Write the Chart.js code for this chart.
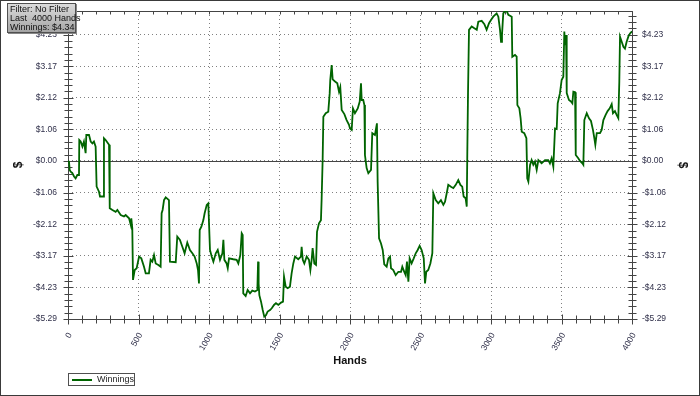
<!DOCTYPE html>
<html>
<head>
<meta charset="utf-8">
<script src="https://cdn.jsdelivr.net/npm/chart.js@4/dist/chart.umd.min.js"></script>
<style>
  body { margin: 0; background: #fff; }
  #wrap { position: relative; width: 700px; height: 396px; }
  #c { position: absolute; left: 0; top: 0; }
  #border { position: absolute; left: 0; top: 0; width: 698px; height: 394px; border: 1px solid #3a3a3a; pointer-events: none; }
  #info {
    position: absolute; left: 7px; top: 3px; width: 65px; height: 27px;
    border: 1px solid #505050; background: linear-gradient(#dcdcdc, #a4a4a4);
    font: 9px "Liberation Sans", Arial, sans-serif; line-height: 9px; color: #111;
    padding: 1px 0 0 2px; white-space: pre; box-shadow: 1px 1px 0 #888;
  }
  #legend {
    position: absolute; left: 68px; top: 373px; width: 65px; height: 11px;
    border: 1px solid #505050; font: 9px "Liberation Sans", Arial, sans-serif; color: #222;
    line-height: 11px; white-space: nowrap;
  }
  #legend i { display: inline-block; width: 20px; height: 0; border-top: 2px solid #006400; vertical-align: middle; margin: 0 5px 0 3px; }
</style>
</head>
<body>
<div id="wrap">
  <canvas id="c" width="700" height="396"></canvas>
  <div id="info"></div>
  <div id="legend"></div>
  <div id="border"></div>
</div>
<script>
// hands played (x) and cumulative winnings in $ (y)
const hands = [
  0, 7, 12, 19, 30, 43, 54, 66, 78, 80, 90, 102, 113, 125, 130, 149, 161, 173, 184, 196,
  203, 220, 227, 250, 255, 267, 291, 296, 315, 338, 350, 374, 397, 409, 433, 445, 449, 456, 461, 473,
  487, 504, 520, 539, 551, 574, 586, 598, 610, 622, 641, 657, 664, 671, 681, 693, 716, 723, 764, 775,
  794, 811, 827, 846, 865, 882, 898, 913, 922, 929, 934, 946, 960, 969, 984, 995, 1007, 1019, 1031, 1048,
  1062, 1078, 1095, 1102, 1109, 1125, 1133, 1142, 1172, 1196, 1208, 1222, 1232, 1239, 1243, 1260, 1274, 1291, 1307, 1326,
  1343, 1348, 1352, 1357, 1369, 1381, 1392, 1404, 1416, 1433, 1445, 1461, 1475, 1492, 1511, 1525, 1532, 1544, 1558, 1574,
  1586, 1598, 1610, 1633, 1652, 1657, 1665, 1676, 1693, 1709, 1719, 1728, 1735, 1747, 1759, 1766, 1780, 1794, 1799, 1806,
  1811, 1828, 1846, 1856, 1860, 1870, 1877, 1894, 1910, 1922, 1931, 1941, 1960, 1976, 1993, 2000, 2012, 2021, 2035, 2055,
  2069, 2078, 2083, 2094, 2102, 2106, 2118, 2130, 2149, 2158, 2177, 2191, 2196, 2206, 2220, 2232, 2243, 2260, 2272, 2284,
  2291, 2307, 2324, 2343, 2362, 2371, 2385, 2395, 2404, 2414, 2423, 2437, 2452, 2466, 2480, 2494, 2508, 2523, 2532, 2541,
  2555, 2570, 2584, 2591, 2608, 2626, 2645, 2662, 2674, 2688, 2697, 2716, 2733, 2750, 2768, 2783, 2796, 2806, 2820, 2828,
  2832, 2837, 2844, 2863, 2882, 2899, 2910, 2934, 2953, 2969, 2986, 3000, 3016, 3040, 3052, 3064, 3071, 3078, 3087, 3099,
  3113, 3123, 3147, 3151, 3170, 3182, 3187, 3201, 3210, 3218, 3236, 3251, 3257, 3265, 3277, 3288, 3300, 3312, 3324, 3336,
  3359, 3383, 3406, 3418, 3430, 3442, 3454, 3466, 3473, 3489, 3501, 3513, 3520, 3525, 3532, 3537, 3553, 3567, 3577, 3584,
  3596, 3601, 3619, 3631, 3648, 3655, 3662, 3679, 3695, 3709, 3723, 3733, 3740, 3750, 3773, 3785, 3797, 3813, 3827, 3842,
  3856, 3865, 3879, 3891, 3903, 3910, 3915, 3927, 3939, 3950, 3962, 3974, 3986, 4000
];
const winnings = [
  0, -0.02, -0.30, -0.36, -0.40, -0.52, -0.58, -0.47, -0.47, 0.70, 0.65, 0.48, 0.65, 0.26, 0.87, 0.87, 0.65, 0.59, 0.65, 0.48,
  -0.86, -1.03, -1.19, -1.19, 0.76, 0.70, 0.54, -1.58, -1.64, -1.70, -1.64, -1.81, -1.86, -1.81, -1.92, -2.14, -1.92, -2.25, -3.98, -3.65,
  -3.59, -3.20, -3.26, -3.54, -3.76, -3.76, -3.31, -3.37, -3.15, -3.43, -3.48, -3.54, -1.75, -1.64, -1.31, -1.22, -1.31, -3.37, -3.39, -2.53,
  -2.64, -2.87, -3.09, -2.73, -2.98, -3.09, -3.20, -3.43, -3.65, -4.10, -2.31, -2.20, -1.98, -1.75, -1.47, -1.42, -2.98, -3.20, -3.37, -3.09,
  -2.98, -3.31, -3.09, -2.64, -3.31, -3.43, -3.59, -3.26, -3.29, -3.31, -3.43, -3.15, -2.42, -2.48, -4.43, -4.52, -4.32, -4.43, -4.34, -4.37,
  -4.32, -3.37, -4.10, -4.49, -4.71, -4.99, -5.21, -5.16, -5.04, -4.99, -4.93, -4.82, -4.76, -4.82, -4.74, -4.71, -3.87, -4.21, -4.26, -4.21,
  -3.76, -3.43, -3.20, -3.29, -3.20, -2.87, -3.31, -3.43, -3.20, -3.31, -3.65, -3.31, -2.92, -3.43, -3.48, -2.37, -2.09, -1.98, -1.25, 0.03,
  1.48, 1.60, 1.65, 2.27, 2.71, 3.21, 2.73, 2.66, 2.60, 2.32, 2.47, 1.71, 1.57, 1.37, 1.21, 1.09, 1.04, 1.76, 1.60, 1.76,
  1.99, 2.60, 2.04, 2.04, 1.87, 0.20, -0.24, -0.41, -0.30, 0.93, 0.87, 1.26, -0.69, -2.59, -2.76, -2.98, -3.46, -3.54, -3.26, -3.20,
  -3.59, -3.65, -3.82, -3.71, -3.71, -3.54, -3.71, -3.82, -3.37, -4.04, -3.26, -3.43, -3.26, -3.09, -2.98, -2.84, -2.98, -3.26, -4.10, -3.71,
  -3.65, -3.43, -3.09, -1.08, -1.31, -1.42, -1.31, -1.47, -1.36, -1.03, -0.80, -0.86, -0.91, -0.80, -0.64, -0.80, -0.86, -1.19, -1.25, -1.53,
  0.31, 2.27, 4.39, 4.50, 4.44, 4.39, 4.66, 4.69, 4.58, 4.39, 4.61, 4.72, 4.83, 4.94, 4.83, 4.39, 3.99, 4.22, 4.94, 5.02,
  5.00, 4.89, 4.83, 3.49, 3.55, 3.49, 1.87, 1.76, 1.43, 0.98, 0.93, 0.76, -0.58, -0.69, -0.13, 0.03, -0.13, -0.02, -0.30, 0.03,
  -0.08, 0.03, 0.03, -0.08, 0.09, -0.19, 1.09, 1.07, 1.93, 2.27, 2.71, 2.82, 4.33, 3.88, 4.22, 2.27, 2.04, 1.99, 1.93, 2.32,
  2.30, 0.20, 0.09, 0.00, -0.08, -0.13, 1.37, 1.60, 1.43, 1.34, 1.04, 0.76, 0.54, 0.93, 0.93, 1.04, 1.37, 1.54, 1.67, 1.76,
  1.90, 1.60, 1.67, 1.54, 1.43, 2.66, 4.16, 3.99, 3.82, 3.76, 3.99, 4.16, 4.27, 4.34
];
// axis tick values
const yTicks = [-5.29, -4.23, -3.17, -2.12, -1.06, 0, 1.06, 2.12, 3.17, 4.23];
const xTicks = [0, 500, 1000, 1500, 2000, 2500, 3000, 3500, 4000];

const yStep = (yTicks[yTicks.length - 1] - yTicks[0]) / (yTicks.length - 1);
const yMax = Math.max(...winnings);
const money = v => (v < -0.001 ? '-$' : '$') + Math.abs(v).toFixed(2);

document.getElementById('info').textContent =
  'Filter: No Filter\nLast  ' + hands[hands.length - 1] + ' Hands\nWinnings: ' + money(winnings[winnings.length - 1]);
document.getElementById('legend').innerHTML = '<i></i>Winnings';

const tickFont = { family: "'Liberation Sans', Arial, sans-serif", size: 8.5 };
const tickColor = '#30304a';

// axis lines, zero line and the small minor ticks
const frame = {
  id: 'frame',
  beforeDatasetsDraw(chart) {
    const { ctx, chartArea: a, scales: { x, y } } = chart;
    const line = (x1, y1, x2, y2) => { ctx.beginPath(); ctx.moveTo(x1, y1); ctx.lineTo(x2, y2); ctx.stroke(); };
    ctx.save();
    ctx.strokeStyle = '#444';
    ctx.lineWidth = 1;
    const l = Math.round(a.left) + 0.5, r = Math.round(a.right) + 0.5;
    const t = Math.round(a.top) + 0.5, b = Math.round(a.bottom) + 0.5;
    line(l, t, r, t);
    line(l, b, r, b);
    line(l, t, l, b);
    line(r, t, r, b);
    const z = Math.round(y.getPixelForValue(0)) + 0.5;
    line(l, z, r, z);
    for (let h = 0; h <= x.max; h += 100) {
      const px = Math.round(x.getPixelForValue(h)) + 0.5;
      const big = h % 500 === 0;
      line(px, b - (big ? 5 : 4), px, b + (big ? 5 : 4));
      line(px, t, px, t + 3);
    }
    for (let i = 0; ; i++) {
      const v = yTicks[0] + i * yStep / 5;
      if (v > y.max + 0.001) break;
      const py = Math.round(y.getPixelForValue(v)) + 0.5;
      const k = i % 5 === 0 ? 5 : 4;
      line(l - k, py, l + k, py);
      line(r - k, py, r + k, py);
    }
    ctx.restore();
  }
};

const yFit = s => { s.width = 68; s.paddingTop = 0; s.paddingBottom = 0; };

new Chart(document.getElementById('c'), {
  type: 'line',
  data: {
    datasets: [{
      label: 'Winnings',
      data: hands.map((h, i) => ({ x: h, y: winnings[i] })),
      borderColor: '#006400',
      borderWidth: 1.8,
      pointRadius: 0,
      tension: 0,
      fill: false
    }]
  },
  options: {
    responsive: false,
    animation: false,
    devicePixelRatio: 1,
    layout: { padding: { top: 11, left: 0, right: 0, bottom: 0 } },
    plugins: { legend: { display: false }, tooltip: { enabled: false } },
    scales: {
      x: {
        type: 'linear',
        min: 0,
        max: 4000,
        afterBuildTicks: s => { s.ticks = xTicks.map(v => ({ value: v })); },
        afterFit: s => { s.height = 77; s.paddingLeft = 0; s.paddingRight = 0; },
        grid: { color: '#808080', drawTicks: false },
        border: { display: false, dash: [1, 3] },
        ticks: { font: tickFont, color: tickColor, minRotation: 60, maxRotation: 60, padding: 12, labelOffset: 2, autoSkip: false, callback: v => String(v) },
        title: { display: true, text: 'Hands', color: '#111', font: { family: "'Liberation Sans', Arial, sans-serif", size: 11, weight: 'bold' }, padding: { bottom: 28 } }
      },
      y: {
        position: 'left',
        min: yTicks[0],
        max: yMax,
        afterBuildTicks: s => { s.ticks = yTicks.map(v => ({ value: v })); },
        afterFit: yFit,
        grid: { color: '#808080', drawTicks: false },
        border: { display: false, dash: [1, 3] },
        ticks: { font: tickFont, color: tickColor, padding: 11, callback: v => money(v) },
        title: { display: true, text: '$', color: '#111', font: { family: "'Liberation Sans', Arial, sans-serif", size: 12, weight: 'bold' }, padding: { top: 11 } }
      },
      y2: {
        position: 'right',
        min: yTicks[0],
        max: yMax,
        afterBuildTicks: s => { s.ticks = yTicks.map(v => ({ value: v })); },
        afterFit: yFit,
        grid: { display: false, drawTicks: false },
        border: { display: false },
        ticks: { font: tickFont, color: tickColor, padding: 10, callback: v => money(v) },
        title: { display: true, text: '$', color: '#111', font: { family: "'Liberation Sans', Arial, sans-serif", size: 12, weight: 'bold' }, padding: { top: 10 } }
      }
    }
  },
  plugins: [frame]
});
</script>
</body>
</html>
